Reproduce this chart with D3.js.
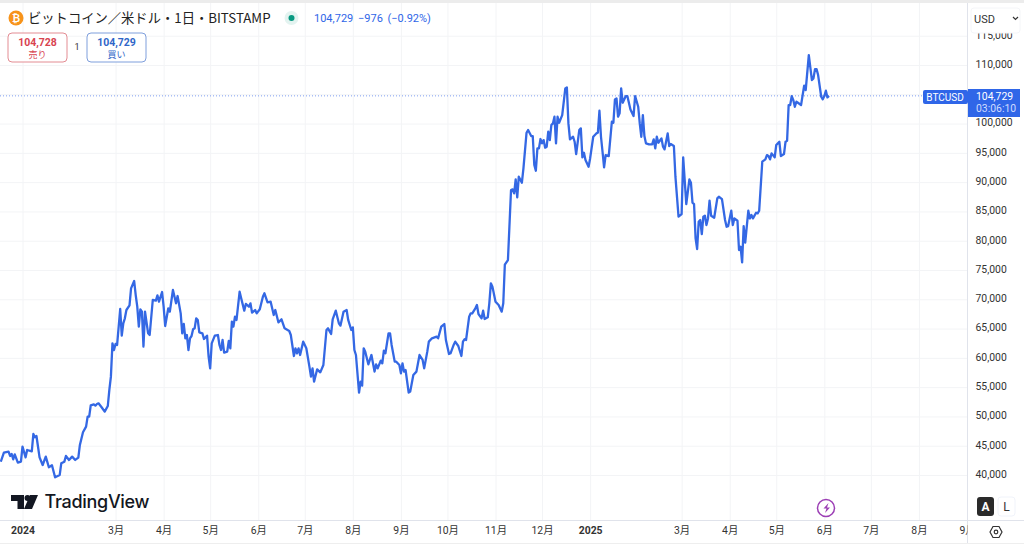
<!DOCTYPE html>
<html>
<head>
<meta charset="utf-8">
<script src="https://cdn.jsdelivr.net/npm/d3@7"></script>
<style>
  html, body { margin: 0; padding: 0; background: #fff; }
  svg { display: block; font-family: Roboto, "Noto Sans CJK JP", sans-serif; }
</style>
</head>
<body>
<svg id="chart" width="1024" height="546"></svg>
<script>
// days since 2024-01-01
const days = [-14,-12,-9,-8,-7,-6,-5,-3,-1,0,2,3,6,7,8,9,11,13,15,17,19,21,24,25,27,28,30,32,34,36,37,39,41,42,43,44,46,47,48,49,51,53,55,56,57,58,59,60,61,63,64,65,66,67,69,70,72,73,74,75,76,77,78,79,81,82,84,86,87,88,90,91,92,94,95,97,99,100,102,103,104,105,106,107,108,109,110,111,112,113,114,116,117,119,120,121,122,124,126,127,128,129,130,132,133,134,135,136,137,138,140,141,143,144,146,147,148,150,151,153,155,156,158,160,162,163,165,167,169,172,173,175,176,177,178,179,181,183,185,186,187,188,190,192,194,196,197,199,200,202,204,205,207,209,210,212,213,214,215,217,218,219,220,221,223,225,227,228,229,231,232,233,234,236,237,238,240,241,243,244,245,246,247,249,250,252,254,256,258,259,261,262,264,267,268,270,272,273,275,276,278,279,281,283,284,285,286,288,289,290,292,293,294,296,297,298,300,301,302,303,305,307,309,310,311,313,315,316,317,318,319,320,322,323,325,326,328,329,330,331,332,333,334,335,336,337,338,339,340,341,342,343,344,345,346,348,350,351,352,353,355,356,357,359,360,361,362,363,365,366,368,370,371,372,373,374,375,376,378,380,381,382,383,384,385,386,387,389,390,392,394,395,397,398,399,400,401,402,404,406,407,408,409,410,412,413,414,416,417,418,420,421,423,425,426,428,430,431,432,433,434,435,436,437,438,439,440,441,442,443,444,446,448,449,451,453,454,455,457,458,459,461,462,463,464,465,466,468,469,470,471,473,474,475,477,479,480,481,482,483,485,486,488,489,491,492,493,494,495,496,497,498,499,500,502,504,505,507,509,510,511,512,513,515,516,517,518,519,520];
const closes = [42280,43820,43990,43250,43590,42680,43530,42110,42280,44840,43020,44270,44050,47000,46440,46660,43020,41710,43140,41320,41660,39610,40010,42000,42280,43250,42570,43140,42570,42970,45130,47290,48260,49960,49960,51900,52070,51840,52130,52240,51560,50820,51780,54520,56790,62480,61340,62370,62200,68340,63790,65900,66750,68170,68970,71870,73120,70730,68740,65330,68290,67890,61910,67890,64190,63900,69880,69770,70680,69590,71240,68740,65440,68460,67890,71590,69310,70560,67600,64190,65780,63340,63900,61340,63340,63730,64870,65040,66750,66470,64360,64190,63220,63790,60210,58210,62480,63790,63900,62200,61340,63050,60890,61060,62880,61630,66180,65330,67030,66470,71300,70160,68060,69200,68740,69310,67720,68170,67600,68290,70450,71020,69480,69590,67320,68170,66070,66580,65040,64590,63900,60320,61630,60780,61630,60490,62770,61630,58500,56790,58210,55940,58040,57530,58780,64760,65040,64080,66580,68060,65900,65500,67890,68170,66470,64760,65210,61340,60490,54060,55940,55260,61630,61060,58900,60490,57650,58900,58210,59520,59070,61230,60780,64190,64190,62200,59350,59350,58780,57360,59070,57650,57930,54060,54230,57080,57650,60490,59640,58210,61060,62770,63340,63620,63340,65330,65780,63050,60660,60780,62200,62770,62030,60320,62770,63170,63050,67030,67600,67600,68460,69030,67490,66750,68060,66640,66920,69310,72720,72160,69590,69030,67890,69310,75900,76700,88650,88760,88080,90470,87400,90930,89900,92350,98440,98890,97870,97870,92920,91950,95760,95760,97360,96620,97180,95880,96050,98610,97180,99740,100030,101170,96620,101170,100140,101450,106000,106170,100030,97300,97750,96900,94790,98890,99180,94225,95020,93770,92630,94050,97750,98320,98440,102190,97750,95190,92520,94620,94450,100310,100140,104130,104300,101170,101740,106000,103560,104700,104700,102420,101280,104700,102870,100030,97750,101450,97870,96620,96440,96440,97300,95760,97750,96730,97470,96050,95590,98320,96160,96500,96160,90930,84100,84550,94230,86260,90470,89900,86490,86260,80400,78580,83240,83530,81140,84100,84270,82680,83810,86830,84270,83930,87230,87510,87110,83530,82390,82500,85120,82680,83810,83410,78410,78980,76300,82500,79660,85120,83810,84380,83810,84780,84670,85120,93490,93890,94620,94450,93890,94910,94230,96330,96900,94450,94800,96900,97070,103160,103160,104700,104010,102870,103730,103560,103160,106460,105720,111690,107430,107710,109300,109300,108280,104580,104130,104700,105610,104470,104729];

const priceTicks = d3.range(40000, 115001, 5000);
// 105,000 sits behind the last price label, so it gets no text
const priceLabelTicks = priceTicks.filter((d) => d !== 105000);
const monthTicks = ["2024-01-01","2024-03-01","2024-04-01","2024-05-01","2024-06-01","2024-07-01","2024-08-01","2024-09-01","2024-10-01","2024-11-01","2024-12-01","2025-01-01","2025-03-01","2025-04-01","2025-05-01","2025-06-01","2025-07-01","2025-08-01","2025-09-01"];
const monthLabels = ["2024","3月","4月","5月","6月","7月","8月","9月","10月","11月","12月","2025","3月","4月","5月","6月","7月","8月","9月"];
const lastPrice = 104729;

const BLUE = "#2f66e8";
const parseDay = d3.utcParse("%Y-%m-%d");
const start = parseDay("2024-01-01");
const points = days.map((d, i) => ({ date: d3.utcDay.offset(start, d), close: closes[i] }));
const tickDates = monthTicks.map(parseDay);

const plotRight = 967.5;
const plotBottom = 520.5;

const x = d3.scaleUtc().domain([start, parseDay("2025-09-01")]).range([22.5, 967]);
const y = d3.scaleLinear().domain([40000, 110000]).range([475, 65]);

const svg = d3.select("#chart");

svg.append("rect").attr("width", 1024).attr("height", 3).attr("fill", "#ececec");

// grid
svg.append("g")
  .attr("transform", `translate(0,${plotBottom})`)
  .call(d3.axisBottom(x).tickValues(tickDates).tickSize(-(plotBottom - 3)).tickFormat(""))
  .call((g) => g.select(".domain").remove())
  .call((g) => g.selectAll("line").attr("stroke", "#f3f4f6"));

svg.append("g")
  .call(d3.axisLeft(y).tickValues(priceTicks).tickSize(-plotRight).tickFormat(""))
  .call((g) => g.select(".domain").remove())
  .call((g) => g.selectAll("line").attr("stroke", "#f3f4f6"));

// price line
svg.append("line")
  .attr("x1", 0).attr("x2", plotRight)
  .attr("y1", y(lastPrice)).attr("y2", y(lastPrice))
  .attr("stroke", "#7f9ff0").attr("stroke-width", 1).attr("stroke-dasharray", "1 2");

const line = d3.line().x((d) => x(d.date)).y((d) => y(d.close));

svg.append("path")
  .datum(points)
  .attr("d", line)
  .attr("fill", "none")
  .attr("stroke", "#3468e4")
  .attr("stroke-width", 2.3)
  .attr("stroke-linejoin", "round");

// frame of the axes
svg.append("line").attr("x1", 0).attr("x2", 1024).attr("y1", plotBottom).attr("y2", plotBottom).attr("stroke", "#e0e3eb");
svg.append("line").attr("x1", plotRight).attr("x2", plotRight).attr("y1", 3).attr("y2", 543).attr("stroke", "#e0e3eb");
svg.append("line").attr("x1", 0).attr("x2", 1024).attr("y1", 543.5).attr("y2", 543.5).attr("stroke", "#eeeeee");

// right axis
svg.append("g")
  .attr("transform", `translate(${plotRight},-1)`)
  .call(d3.axisRight(y).tickValues(priceLabelTicks).tickSize(0).tickPadding(8).tickFormat(d3.format(",")))
  .call((g) => g.select(".domain").remove())
  .call((g) => g.selectAll("text").attr("font-size", 10.4).attr("font-family", "Roboto").attr("fill", "#333"));

// bottom axis, 9月 is cut by the price scale
const clip = svg.append("clipPath").attr("id", "time-clip");
clip.append("rect").attr("x", 0).attr("y", 521).attr("width", plotRight).attr("height", 24);

svg.append("g")
  .attr("clip-path", "url(#time-clip)")
  .append("g")
  .attr("transform", `translate(0,${plotBottom})`)
  .call(d3.axisBottom(x).tickValues(tickDates).tickSize(0).tickPadding(6)
    .tickFormat((d, i) => monthLabels[i]))
  .call((g) => g.select(".domain").remove())
  .call((g) => g.selectAll("text")
    .attr("font-size", 10.4)
    .attr("font-family", "Roboto, 'Noto Sans CJK JP'")
    .attr("fill", "#333")
    .attr("font-weight", (d, i) => (monthLabels[i].length === 4 ? 700 : 400)));

// USD box covers top of the scale
svg.append("rect").attr("x", 971).attr("y", 8).attr("width", 49).attr("height", 25).attr("rx", 3)
  .attr("fill", "#fff").attr("stroke", "#f4f5f8");
svg.append("text").attr("x", 974).attr("y", 23).attr("font-size", 11).attr("fill", "#333").text("USD");
svg.append("path").attr("d", "M1013 17l2.500 2.500l2.500-2.500").attr("fill", "none").attr("stroke", "#333").attr("stroke-width", 1.2);

// last price labels
svg.append("rect").attr("x", 923).attr("y", 90).attr("width", 45).attr("height", 14).attr("rx", 2).attr("fill", BLUE);
svg.append("text").attr("x", 945).attr("y", 101).attr("text-anchor", "middle").attr("font-size", 10).attr("fill", "#fff").text("BTCUSD");
svg.append("rect").attr("x", 968).attr("y", 89).attr("width", 52).attr("height", 28).attr("fill", BLUE);
svg.append("text").attr("x", 976).attr("y", 100).attr("font-size", 10.4).attr("fill", "#fff").text(d3.format(",")(lastPrice));
svg.append("text").attr("x", 976).attr("y", 112).attr("font-size", 10.4).attr("fill", "#cfdcff").text("03:06:10");

// header
svg.append("circle").attr("cx", 16).attr("cy", 18).attr("r", 7.5).attr("fill", "#f7931a");
svg.append("text").attr("x", 16).attr("y", 21.500).attr("text-anchor", "middle").attr("font-size", 10).attr("font-weight", 700).attr("fill", "#fff").text("₿");
svg.append("text").attr("x", 28).attr("y", 23).attr("font-size", 13.3).attr("font-family", "'Noto Sans CJK JP'").attr("fill", "#222").text("ビットコイン／米ドル・1日・BITSTAMP");
svg.append("circle").attr("cx", 291.500).attr("cy", 18).attr("r", 7).attr("fill", "#e3f3f0");
svg.append("circle").attr("cx", 291.500).attr("cy", 18).attr("r", 3).attr("fill", "#089981");
svg.append("text").attr("x", 314).attr("y", 21.500).attr("font-size", 11).attr("word-spacing", 2).attr("fill", BLUE).text("104,729  −976  (−0.92%)");

const buttons = [
  { bx: 8, color: "#d8434f", edge: "#e38c93", price: "104,728", side: "売り" },
  { bx: 87, color: "#2f66c8", edge: "#7f9fdc", price: "104,729", side: "買い" },
];
buttons.forEach((b) => {
  svg.append("rect").attr("x", b.bx).attr("y", 33).attr("width", 59).attr("height", 29).attr("rx", 4)
    .attr("fill", "#fff").attr("stroke", b.edge);
  svg.append("text").attr("x", b.bx + 29.500).attr("y", 46).attr("text-anchor", "middle")
    .attr("font-size", 10.5).attr("font-weight", 700).attr("fill", b.color).text(b.price);
  svg.append("text").attr("x", b.bx + 29.500).attr("y", 57.500).attr("text-anchor", "middle")
    .attr("font-size", 9).attr("font-family", "'Noto Sans CJK JP'").attr("fill", b.color).text(b.side);
});
svg.append("text").attr("x", 77).attr("y", 50).attr("text-anchor", "middle").attr("font-size", 9).attr("fill", "#333").text("1");

// TradingView mark and name
svg.append("path").attr("fill", "#131722")
  .attr("d", "M11 495h13v14h-6.500v-8h-6.500z M30 495h8l-6 14h-8z");
svg.append("circle").attr("cx", 27.500).attr("cy", 498).attr("r", 3).attr("fill", "#131722");
svg.append("text").attr("x", 44.500).attr("y", 508).attr("font-size", 18).attr("font-family", "Inter, Roboto").attr("font-weight", 500)
  .attr("letter-spacing", -0.3).attr("fill", "#131722").text("TradingView");

// lightning marker
svg.append("circle").attr("cx", 826).attr("cy", 508).attr("r", 8.500).attr("fill", "#fff").attr("stroke", "#9c3fb5").attr("stroke-width", 1.5);
svg.append("path").attr("d", "M828.500 503l-5 5.500h3l-1.500 4.500l5-5.500h-3z").attr("fill", "#9c3fb5");

// A / L buttons and settings
svg.append("rect").attr("x", 977).attr("y", 497).attr("width", 17).attr("height", 19).attr("rx", 3).attr("fill", "#2a2a2a");
svg.append("text").attr("x", 985.500).attr("y", 511).attr("text-anchor", "middle").attr("font-size", 12).attr("font-weight", 700).attr("fill", "#fff").text("A");
svg.append("rect").attr("x", 998).attr("y", 497).attr("width", 17).attr("height", 19).attr("rx", 3).attr("fill", "#fff").attr("stroke", "#f0f3fa");
svg.append("text").attr("x", 1006.500).attr("y", 511).attr("text-anchor", "middle").attr("font-size", 12).attr("fill", "#333").text("L");
svg.append("path").attr("d", "M990 532l3-5.500h6l3 5.500l-3 5.500h-6z").attr("fill", "none").attr("stroke", "#333").attr("stroke-width", 1.2);
svg.append("circle").attr("cx", 996).attr("cy", 532).attr("r", 1.8).attr("fill", "none").attr("stroke", "#333").attr("stroke-width", 1.2);
</script>
</body>
</html>
